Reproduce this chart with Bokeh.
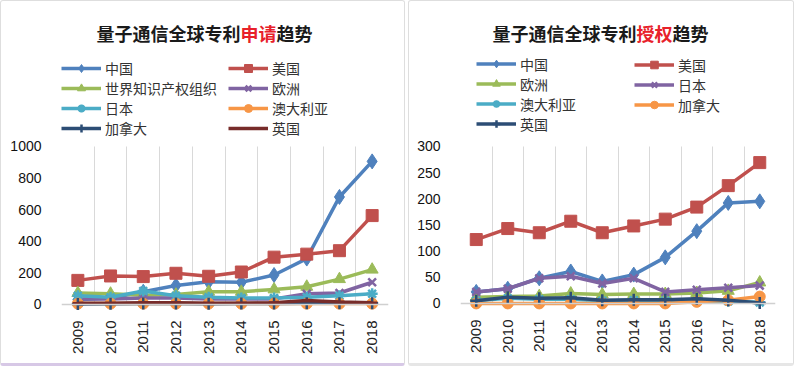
import math
from bokeh.plotting import figure
from bokeh.models import Legend, LegendItem, Label, FixedTicker, Range1d, Span
from bokeh.layouts import row
from bokeh.embed import file_html
from bokeh.resources import INLINE

years = ["2009", "2010", "2011", "2012", "2013", "2014", "2015", "2016", "2017", "2018"]

# 申请 (applications)
app_names = ["中国", "美国", "世界知识产权组织", "欧洲", "日本", "澳大利亚", "加拿大", "英国"]
app_cn = [30, 40, 80, 120, 143, 140, 186, 290, 680, 905]
app_us = [152, 180, 176, 197, 178, 205, 299, 318, 340, 562]
app_wipo = [72, 68, 58, 62, 80, 80, 95, 112, 160, 220]
app_eu = [35, 35, 40, 40, 35, 35, 35, 68, 72, 140]
app_jp = [55, 45, 85, 55, 45, 40, 40, 45, 55, 68]
app_au = [5, 5, 5, 5, 5, 5, 5, 5, 5, 5]
app_ca = [3, 4, 5, 5, 4, 5, 6, 8, 8, 8]
app_uk = [8, 8, 10, 10, 8, 8, 10, 25, 15, 10]

# 授权 (grants)
gr_names = ["中国", "美国", "欧洲", "日本", "澳大利亚", "加拿大", "英国"]
gr_cn = [22, 28, 48, 61, 42, 55, 88, 138, 192, 195]
gr_us = [122, 143, 135, 157, 135, 148, 161, 184, 225, 269]
gr_eu = [12, 13, 14, 19, 17, 18, 18, 20, 24, 40]
gr_jp = [22, 28, 48, 52, 38, 48, 22, 26, 30, 34]
gr_au = [5, 10, 8, 8, 5, 6, 5, 4, 4, 2]
gr_ca = [0, 0, 0, 0, 0, 0, 0, 3, 6, 13]
gr_uk = [5, 12, 10, 11, 6, 7, 7, 9, 6, 1]

C_BLUE = "#4F81BD"
C_RED = "#C0504D"
C_GREEN = "#9BBB59"
C_PURPLE = "#8064A2"
C_TEAL = "#4BACC6"
C_ORANGE = "#F79646"
C_NAVY = "#2C4D75"
C_DRED = "#772C2A"

MARKERS = ["diamond", "square", "triangle", "x", "asterisk", "circle", "cross", "dash"]
MSIZE = {"diamond": 15, "square": 12, "triangle": 12, "x": 11, "asterisk": 11,
         "circle": 11, "cross": 12, "dash": 10}

FONT_CJK = "Noto Sans CJK SC"
FONT_LAT = "Liberation Sans"

TOP_PX = 143      # distance from figure top to the max gridline value
BOT_PAD = 7       # frame padding below zero
TITLE_FS = 18


def make_panel(series, ymax, ystep, ypx, frame_w, b_left, b_right, b_bottom,
               title_parts, title_cx, legend_cols, bottom_color):
    xs = list(range(len(years)))
    upp = ymax / ypx  # units per pixel
    frame_h = TOP_PX + ypx + BOT_PAD
    p = figure(frame_width=frame_w, frame_height=frame_h,
               x_range=Range1d(-0.5, len(years) - 0.5),
               y_range=Range1d(-BOT_PAD * upp, ymax + TOP_PX * upp),
               output_backend="svg", toolbar_location=None,
               min_border_left=b_left, min_border_right=b_right,
               min_border_top=0, min_border_bottom=b_bottom)
    p.outline_line_color = None
    p.background_fill_color = "white"
    p.border_fill_color = "white"
    p.styles = {"border": "1px solid #dedede", "border-bottom": "3px solid " + bottom_color,
                "border-radius": "3px"}

    # grid lines at category boundaries
    p.ygrid.visible = False
    p.xgrid.ticker = FixedTicker(ticks=[i - 0.5 for i in range(len(years) + 1)])
    p.xgrid.grid_line_color = "#d9d9d9"
    p.xgrid.grid_line_width = 1
    p.xgrid.cross_bounds = (0, ymax)

    # zero line
    p.add_layout(Span(location=0, dimension="width", line_color="#d0d0d0", line_width=1.5))

    xa = p.xaxis[0]
    xa.ticker = FixedTicker(ticks=xs)
    xa.major_label_overrides = {i: y for i, y in enumerate(years)}
    xa.major_label_orientation = math.pi / 2
    xa.axis_line_color = None
    xa.major_tick_line_color = None
    xa.minor_tick_line_color = None
    xa.major_label_standoff = 3
    xa.major_label_text_font = FONT_LAT
    xa.major_label_text_font_size = "15px"
    xa.major_label_text_color = "#222222"

    ya = p.yaxis[0]
    ya.ticker = FixedTicker(ticks=list(range(0, ymax + 1, ystep)))
    ya.axis_line_color = None
    ya.major_tick_line_color = None
    ya.minor_tick_line_color = None
    ya.major_label_standoff = 14
    ya.major_label_text_font = FONT_LAT
    ya.major_label_text_font_size = "14px"
    ya.major_label_text_color = "#111111"

    items = []
    for i, (name, vals, color) in enumerate(series):
        m = MARKERS[i]
        rl = p.line(xs, vals, line_color=color, line_width=3.5)
        if m in ("x", "asterisk", "cross", "dash"):
            rs = p.scatter(xs, vals, marker=m, size=MSIZE[m], line_color=color, line_width=2.5)
        else:
            rs = p.scatter(xs, vals, marker=m, size=MSIZE[m], fill_color=color,
                           line_color=color, line_width=1)
        items.append(LegendItem(label=name, renderers=[rl, rs]))

    for (idxs, vx, top_y, gh) in legend_cols:
        vy = frame_h - top_y - gh * len(idxs)
        lg = Legend(items=[items[k] for k in idxs], location=(vx, vy),
                    orientation="vertical", glyph_width=40, glyph_height=gh,
                    label_height=gh, spacing=0, padding=0, margin=0,
                    label_standoff=4, background_fill_alpha=0, border_line_alpha=0,
                    label_text_font=FONT_CJK, label_text_font_size="14px",
                    label_text_color="#333333")
        p.add_layout(lg, "center")

    n_chars = sum(len(t) for t, _ in title_parts)
    x = title_cx - TITLE_FS * n_chars / 2
    for text, color in title_parts:
        p.add_layout(Label(x=x, y=frame_h - 27, x_units="screen",
                           y_units="screen", text=text, text_font=FONT_CJK,
                           text_font_style="bold", text_font_size=f"{TITLE_FS}px",
                           text_color=color, text_baseline="middle", text_align="left"))
        x += TITLE_FS * len(text)
    return p


app_series = list(zip(app_names,
                      [app_cn, app_us, app_wipo, app_eu, app_jp, app_au, app_ca, app_uk],
                      [C_BLUE, C_RED, C_GREEN, C_PURPLE, C_TEAL, C_ORANGE, C_NAVY, C_DRED]))
gr_series = list(zip(gr_names,
                     [gr_cn, gr_us, gr_eu, gr_jp, gr_au, gr_ca, gr_uk],
                     [C_BLUE, C_RED, C_GREEN, C_PURPLE, C_TEAL, C_ORANGE, C_NAVY]))

p1 = make_panel(app_series, 1000, 200, 156, 325, 60, 18, 56,
                [("量子通信全球专利", "#1a1a1a"), ("申请", "#e8212a"), ("趋势", "#1a1a1a")],
                143, [([0, 2, 4, 6], 0, 53, 20), ([1, 3, 5, 7], 167, 53, 20)], "#d7c8e6")
p2 = make_panel(gr_series, 300, 50, 155, 313, 51, 20, 57,
                [("量子通信全球专利", "#1a1a1a"), ("授权", "#e8212a"), ("趋势", "#1a1a1a")],
                140, [([0, 2, 4, 6], 16, 52.5, 19), ([1, 3, 5], 174, 52.5, 19)], "#e6e6e6")

layout = row(p1, p2, spacing=3)
open("out.html", "w").write(file_html(layout, INLINE))
